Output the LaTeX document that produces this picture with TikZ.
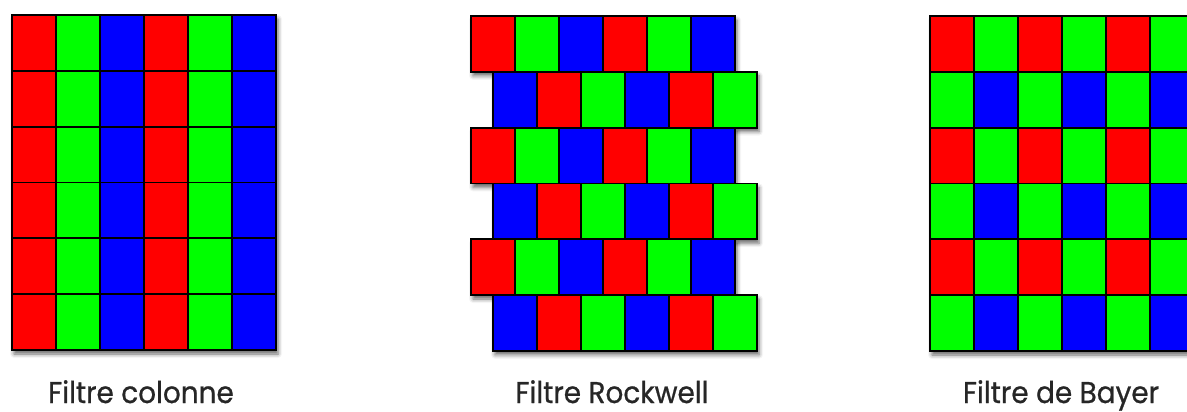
\documentclass[tikz,border=0pt]{standalone}
\usepackage{fontspec}
\setmainfont[FakeBold=0.8]{Poppins}
\usetikzlibrary{shadows.blur}
\definecolor{pxred}{RGB}{255,0,0}
\definecolor{pxgreen}{RGB}{0,255,0}
\definecolor{pxblue}{RGB}{0,0,255}
\tikzset{
  cell/.style={draw=black,line width=1.8pt},
  gridshadow/.style={fill=white,blur shadow={shadow xshift=2pt,shadow yshift=-4pt,shadow blur radius=4pt,shadow opacity=60}},
  caption/.style={anchor=base,font=\fontsize{30}{30}\selectfont,xscale=.93,text=black!85}
}
\newcommand{\cw}{44}
\newcommand{\ch}{55.8}
\newcommand{\pixrow}[3]{%
  \foreach \c [count=\i from 0] in {#3}
    \filldraw[cell,fill=\c] ({#1+\i*\cw},{#2}) rectangle ++(\cw,\ch);}

\begin{document}
\begin{tikzpicture}[x=1pt,y=-1pt]
    \clip (0,0) rectangle (1187,412);
    \fill[gridshadow] (12,15) rectangle (276,350);
    \foreach \r in {0,...,5}{
        \pgfmathsetmacro{\xr}{isodd(\r) ? 493 : 471}
        \fill[gridshadow] (\xr,{16+\r*\ch}) rectangle ++(264,\ch);
    }
    \fill[gridshadow] (930,16) rectangle (1194,351);
    \foreach \r in {0,...,5}
        \pixrow{12}{15+\r*\ch}{pxred,pxgreen,pxblue,pxred,pxgreen,pxblue};
    \foreach \r in {0,2,4}{
        \pixrow{471}{16+\r*\ch}{pxred,pxgreen,pxblue,pxred,pxgreen,pxblue}
        \pixrow{493}{16+(\r+1)*\ch}{pxblue,pxred,pxgreen,pxblue,pxred,pxgreen}
    }
    \foreach \r in {0,2,4}{
        \pixrow{930}{16+\r*\ch}{pxred,pxgreen,pxred,pxgreen,pxred,pxgreen}
        \pixrow{930}{16+(\r+1)*\ch}{pxgreen,pxblue,pxgreen,pxblue,pxgreen,pxblue}
    }
    \node[caption] (colonne) at (141,403) {Filtre colonne};
    \node[caption] (rockwell) at (612,403) {Filtre Rockwell};
    \node[caption] (bayer) at (1061,403) {Filtre de Bayer};
\end{tikzpicture}
\end{document}
